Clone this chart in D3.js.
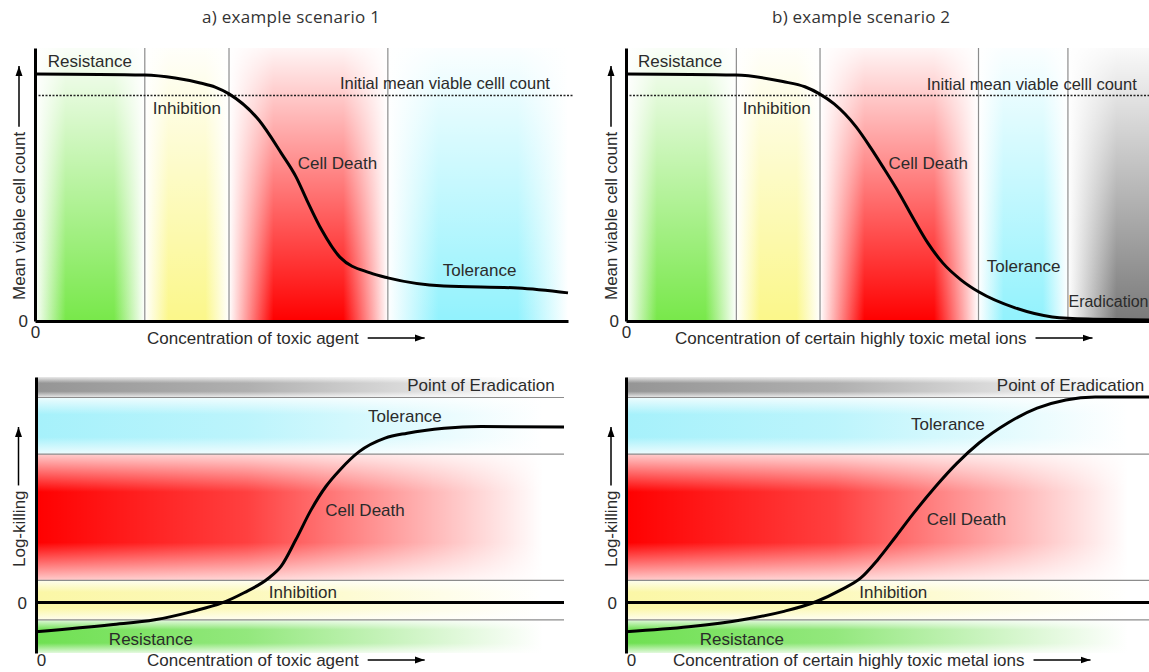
<!DOCTYPE html>
<html>
<head>
<meta charset="utf-8">
<title>Scenarios</title>
<style>
	body { margin: 0; background: #fff; }
	svg { display: block; }
	text { font-family: 'Liberation Sans', Arial, sans-serif; fill: #2b2b2b; }
	.lbl { font-size: 17px; }
	.title { font-family: 'Open Sans', 'Liberation Sans', sans-serif; font-size: 17px; fill: #333; }
	.axis path.domain { stroke: #000; stroke-width: 3px; }
	.axis .tick text { font-family: 'Liberation Sans', Arial, sans-serif; font-size: 17px; fill: #2b2b2b; }
	.curve { fill: none; stroke: #000; stroke-width: 3px; }
	.grid { stroke: #8c8c8c; stroke-width: 1.2px; }
	.dotted { stroke: #222; stroke-width: 1.6px; stroke-dasharray: 2,1.5; }
	.zero { stroke: #000; stroke-width: 3px; }
	.arrowline { stroke: #000; stroke-width: 1.5px; }
</style>
</head>
<body>
<script src="https://d3js.org/d3.v7.min.js"></script>
<script>
'use strict';

const width = 1149, height = 672;

// ---- data ----
const titles = ['a) example scenario 1', 'b) example scenario 2'];
const xLabels = ['Concentration of toxic agent', 'Concentration of certain highly toxic metal ions'];
const yLabelTop = 'Mean viable cell count';
const yLabelBottom = 'Log-killing';
const initialLabel = 'Initial mean viable celll count';
const initialCount = 82.6;

// top panels: concentration (0-100) -> mean viable cell count (0-100)
const concA =   [0, 20.6, 26.3, 31, 33.8, 36.4, 42, 46.2, 49, 51, 53.8, 57.2, 62.9, 66.2, 76.7, 90.6, 100];
const viableA = [90.5, 90.1, 89, 87.2, 85.7, 83.2, 73.6, 61.5, 52.7, 44.3, 33.3, 23.4, 17.6, 15.8, 12.8, 12.1, 10.3];
const concB =   [0, 21, 30, 34.2, 37, 39.8, 44, 46.7, 49.5, 52.2, 55.1, 57.7, 60.6, 64.1, 67.5, 74.4, 81.5, 88.3, 100];
const viableB = [90.5, 90.1, 87.7, 85.8, 83.2, 79.5, 71.1, 63.7, 55.3, 46.9, 37, 28.6, 21.2, 15, 10.6, 4.8, 1.5, 0.7, 0.4];

// bottom panels: concentration (0-100) -> log-killing
const concC = [0, 14.2, 22.5, 29.5, 35.2, 39.4, 43.9, 46.4, 49.2, 52.1, 54.9, 57.6, 61.2, 66.1, 70.3, 77.3, 84.3, 100];
const killC = [-0.71, -0.54, -0.42, -0.22, -0.01, 0.24, 0.58, 0.88, 1.53, 2.26, 2.83, 3.24, 3.68, 4.01, 4.13, 4.25, 4.29, 4.28];
const concD = [0, 12, 22.3, 30, 36.3, 41.1, 44.9, 48.1, 51.6, 55, 59.2, 63.3, 67.5, 73, 78.6, 84.1, 89.7, 100];
const killD = [-0.71, -0.59, -0.42, -0.22, 0.02, 0.31, 0.6, 1.04, 1.61, 2.18, 2.83, 3.4, 3.89, 4.38, 4.74, 4.94, 5.01, 5.01];

// zones
const zoneNamesA = ['Resistance', 'Inhibition', 'Cell Death', 'Tolerance'];
const zoneEdgesA = [0, 20.6, 36.4, 66.2, 100];
const zoneNamesB = ['Resistance', 'Inhibition', 'Cell Death', 'Tolerance', 'Eradication'];
const zoneEdgesB = [0, 21.1, 37.1, 67.4, 84.5, 100];
const killZoneNames = ['Resistance', 'Inhibition', 'Cell Death', 'Tolerance', 'Point of Eradication'];
const killZoneEdges = [-1.23, -0.42, 0.54, 3.62, 5.0, 5.5];

// label anchors (data units), same order as zone names
const labelsA = [[2.4, 93.2], [22.1, 75.8], [49.3, 55.6], [76.5, 16.5]];
const labelsB = [[2.3, 93.2], [22.3, 75.8], [50.2, 55.7], [69, 18.1], [84.6, 5]];
const labelsC = [[13.8, -1.03], [44.1, 0.11], [54.8, 2.1], [62.9, 4.41], [70.3, 5.15]];
const labelsD = [[14.1, -1.03], [44.6, 0.11], [57.5, 1.9], [54.5, 4.2], [70.9, 5.15]];
const initialLabelAt = [[57.2, 85], [57.5, 84.6]];

const zoneColors = {
	'Resistance': '#78e84a',
	'Inhibition': '#fbf78a',
	'Cell Death': '#ff0000',
	'Tolerance': '#92f2fd',
	'Eradication': '#7a7a7a'
};
const killColors = {
	'Resistance': '#6fe052',
	'Inhibition': '#fbf7a6',
	'Cell Death': '#ff0000',
	'Tolerance': '#a6f1fb',
	'Point of Eradication': '#959595'
};

// ---- svg ----
const svg = d3.select('body').append('svg')
	.attr('width', width)
	.attr('height', height);

const defs = svg.append('defs');

function grad(id, color, stops, vertical) {
	const g = defs.append('linearGradient').attr('id', id)
		.attr('x1', 0).attr('y1', 0)
		.attr('x2', vertical ? 0 : 1).attr('y2', vertical ? 1 : 0);
	stops.forEach(function(s) {
		g.append('stop').attr('offset', s[0]).attr('stop-color', color).attr('stop-opacity', s[1]);
	});
}

Object.keys(zoneColors).forEach(function(k, i) {
	const st = k === 'Eradication' ? [[0, 0], [0.6, 1], [1, 1]] : [[0, 0], [0.28, 1], [0.72, 1], [1, 0]];
	grad('tz' + i, zoneColors[k], st, false);
});
Object.keys(killColors).forEach(function(k, i) {
	grad('bz' + i, killColors[k], [[0, 1], [0.4, 0.75], [0.96, 0]], false);
});
grad('fadeTop', '#fff', [[0, 0.96], [1, 0]], true);
grad('fadeEdges', '#fff', [[0, 0.8], [0.3, 0], [0.7, 0], [1, 0.8]], true);

defs.append('marker')
	.attr('id', 'arrow')
	.attr('viewBox', '0 -4 10 8')
	.attr('refX', 10).attr('refY', 0)
	.attr('markerWidth', 10).attr('markerHeight', 8)
	.attr('markerUnits', 'userSpaceOnUse')
	.attr('orient', 'auto')
	.append('path').attr('d', 'M0,-3.5L10,0L0,3.5Z').attr('fill', '#000');

// titles
svg.selectAll('.title').data(titles).enter().append('text')
	.attr('class', 'title')
	.attr('x', function(d, i) {return i === 0 ? 291 : 861;})
	.attr('y', 23)
	.attr('text-anchor', 'middle')
	.attr('textLength', 178)
	.attr('lengthAdjust', 'spacing')
	.text(function(d) {return d;});

function yLabel(text, ax, yStart, yTop) {
	const t = svg.append('text')
		.attr('class', 'lbl')
		.attr('transform', 'translate(' + (ax + 6) + ',' + yStart + ') rotate(-90)')
		.text(text);
	const len = t.node().getComputedTextLength();
	svg.append('line').attr('class', 'arrowline')
		.attr('x1', ax).attr('x2', ax)
		.attr('y1', yStart - len - 5).attr('y2', yTop)
		.attr('marker-end', 'url(#arrow)');
}

function xLabel(text, tx, ty) {
	const t = svg.append('text').attr('class', 'lbl').attr('x', tx).attr('y', ty).text(text);
	const len = t.node().getComputedTextLength();
	svg.append('line').attr('class', 'arrowline')
		.attr('x1', tx + len + 9).attr('x2', tx + len + 66)
		.attr('y1', ty - 6).attr('y2', ty - 6)
		.attr('marker-end', 'url(#arrow)');
}

// ---- top panels ----
function topPanel(cfg) {
	const x = d3.scaleLinear().domain([0, 100]).range([cfg.x0, cfg.x1]);
	const y = d3.scaleLinear().domain([0, 100]).range([321, 48]);
	const g = svg.append('g');
	const keys = Object.keys(zoneColors);

	cfg.names.forEach(function(n, i) {
		g.append('rect')
			.attr('x', x(cfg.edges[i])).attr('width', x(cfg.edges[i + 1]) - x(cfg.edges[i]))
			.attr('y', y(100)).attr('height', y(0) - y(100))
			.attr('fill', 'url(#tz' + keys.indexOf(n) + ')');
	});
	g.append('rect')
		.attr('x', x(0)).attr('width', x(100) - x(0))
		.attr('y', y(100)).attr('height', y(0) - y(100))
		.attr('fill', 'url(#fadeTop)');

	g.selectAll('.grid').data(cfg.edges.slice(1, -1)).enter().append('line')
		.attr('class', 'grid')
		.attr('x1', function(d) {return x(d);}).attr('x2', function(d) {return x(d);})
		.attr('y1', y(100)).attr('y2', y(0));

	g.append('line').attr('class', 'dotted')
		.attr('x1', x(0)).attr('x2', x(100) + 5)
		.attr('y1', y(initialCount)).attr('y2', y(initialCount));

	g.append('g').attr('class', 'axis')
		.attr('transform', 'translate(' + cfg.x0 + ',0)')
		.call(d3.axisLeft(y).tickValues([0]).tickFormat(d3.format('d')).tickSize(0).tickSizeOuter(0).tickPadding(7));
	g.append('g').attr('class', 'axis')
		.attr('transform', 'translate(0,321)')
		.call(d3.axisBottom(x).tickValues([0]).tickFormat(d3.format('d')).tickSize(0).tickSizeOuter(0).tickPadding(5));

	const line = d3.line()
		.x(function(d, i) {return x(cfg.conc[i]);})
		.y(function(d) {return y(d);})
		.curve(d3.curveMonotoneX);
	g.append('path').attr('class', 'curve').attr('d', line(cfg.vals));

	cfg.names.forEach(function(n, i) {
		g.append('text').attr('class', 'lbl')
			.style('font-size', n === 'Eradication' ? '16px' : null)
			.attr('x', x(cfg.labels[i][0])).attr('y', y(cfg.labels[i][1]))
			.text(n);
	});
	g.append('text').attr('class', 'lbl').style('font-size', '16.5px')
		.attr('x', x(cfg.initAt[0])).attr('y', y(cfg.initAt[1]))
		.text(initialLabel);

	yLabel(yLabelTop, cfg.ax, 300, 66);
	xLabel(cfg.xLabel, cfg.tx, 344);
}

// ---- bottom panels ----
function bottomPanel(cfg) {
	const x = d3.scaleLinear().domain([0, 100]).range([cfg.x0, cfg.x1]);
	const y = d3.scaleLinear().domain([-1.23, 5.5]).range([653, 377]);
	const g = svg.append('g');

	killZoneNames.forEach(function(n, i) {
		const r = {x: x(0), w: x(100) - x(0), y: y(killZoneEdges[i + 1]), h: y(killZoneEdges[i]) - y(killZoneEdges[i + 1])};
		g.append('rect').attr('x', r.x).attr('width', r.w).attr('y', r.y).attr('height', r.h)
			.attr('fill', 'url(#bz' + i + ')');
		g.append('rect').attr('x', r.x).attr('width', r.w).attr('y', r.y).attr('height', r.h)
			.attr('fill', 'url(#fadeEdges)');
	});

	g.selectAll('.grid').data(killZoneEdges.slice(1, -1)).enter().append('line')
		.attr('class', 'grid')
		.attr('x1', x(0)).attr('x2', x(100))
		.attr('y1', function(d) {return y(d);}).attr('y2', function(d) {return y(d);});

	g.append('line').attr('class', 'zero')
		.attr('x1', x(0)).attr('x2', x(100))
		.attr('y1', y(0)).attr('y2', y(0));

	g.append('g').attr('class', 'axis')
		.attr('transform', 'translate(' + cfg.x0 + ',0)')
		.call(d3.axisLeft(y).tickValues([0]).tickFormat(d3.format('d')).tickSize(0).tickSizeOuter(0).tickPadding(9));
	const xa = g.append('g').attr('class', 'axis')
		.attr('transform', 'translate(5,651)')
		.call(d3.axisBottom(x).tickValues([0]).tickFormat(d3.format('d')).tickSize(0).tickSizeOuter(0).tickPadding(3));
	xa.select('path.domain').remove();

	const line = d3.line()
		.x(function(d, i) {return x(cfg.conc[i]);})
		.y(function(d) {return y(d);})
		.curve(d3.curveMonotoneX);
	g.append('path').attr('class', 'curve').attr('d', line(cfg.vals));

	killZoneNames.forEach(function(n, i) {
		g.append('text').attr('class', 'lbl')
			.attr('x', x(cfg.labels[i][0])).attr('y', y(cfg.labels[i][1]))
			.text(n);
	});

	yLabel(yLabelBottom, cfg.ax, 567, 427);
	xLabel(cfg.xLabel, cfg.tx, 666);
}

topPanel({x0: 35, x1: 568, names: zoneNamesA, edges: zoneEdgesA, conc: concA, vals: viableA,
	labels: labelsA, initAt: initialLabelAt[0], ax: 19, tx: 147, xLabel: xLabels[0]});
topPanel({x0: 626, x1: 1149, names: zoneNamesB, edges: zoneEdgesB, conc: concB, vals: viableB,
	labels: labelsB, initAt: initialLabelAt[1], ax: 611, tx: 675, xLabel: xLabels[1]});
bottomPanel({x0: 36, x1: 564, conc: concC, vals: killC, labels: labelsC, ax: 18.5, tx: 147, xLabel: xLabels[0]});
bottomPanel({x0: 626, x1: 1149, conc: concD, vals: killD, labels: labelsD, ax: 611, tx: 673, xLabel: xLabels[1]});
</script>
</body>
</html>
